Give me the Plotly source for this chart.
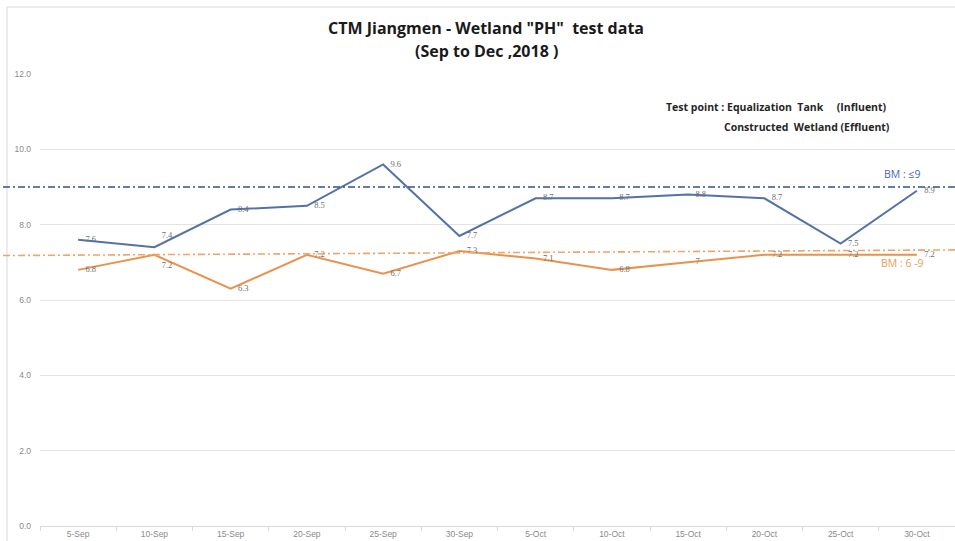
import plotly.graph_objects as go

# Sampling dates and pH readings
dates = ["5-Sep", "10-Sep", "15-Sep", "20-Sep", "25-Sep", "30-Sep",
         "5-Oct", "10-Oct", "15-Oct", "20-Oct", "25-Oct", "30-Oct"]
influent_ph = [7.6, 7.4, 8.4, 8.5, 9.6, 7.7, 8.7, 8.7, 8.8, 8.7, 7.5, 8.9]
effluent_ph = [6.8, 7.2, 6.3, 7.2, 6.7, 7.3, 7.1, 6.8, 7.0, 7.2, 7.2, 7.2]
y_ticks = [0, 2, 4, 6, 8, 10, 12]

# Benchmark guide lines (start / end level)
bm_upper = (9.0, 9.0)
bm_effluent = (7.18, 7.33)

W, H = 955, 541
L, R, T, B = 40, 0, 74, 15
PW, PH = W - L - R, H - T - B


def px(x):
    return (x - L) / PW


def py(y):
    return (H - B - y) / PH


BLUE = "#5272a8"
ORANGE = "#e8924c"
LABEL_GREY = "#6e6e6e"
TEXT_FONT = "Open Sans"

# label placement: the two 10-Sep labels are pushed apart
influent_pos = ["middle right"] * len(dates)
influent_pos[1] = "top right"
effluent_pos = ["middle right"] * len(dates)
effluent_pos[1] = "bottom right"

fig = go.Figure()

for values, colour, pos in ((influent_ph, BLUE, influent_pos),
                            (effluent_ph, ORANGE, effluent_pos)):
    fig.add_trace(go.Scatter(
        x=dates, y=values, mode="lines+markers+text",
        line=dict(color=colour, width=2),
        marker=dict(size=10, color="rgba(0,0,0,0)"),
        text=[f"{v:g}" for v in values], textposition=pos,
        textfont=dict(size=8.5, color=LABEL_GREY, family="Liberation Serif"),
        showlegend=False, cliponaxis=False, hoverinfo="x+y",
    ))

shapes = [
    # chart frame
    dict(type="rect", xref="paper", yref="paper",
         x0=px(7), x1=px(W + 20), y0=py(H + 20), y1=py(7),
         line=dict(color="#d9d9d9", width=1), fillcolor="rgba(0,0,0,0)",
         layer="below"),
    # benchmark lines
    dict(type="line", xref="paper", yref="y", x0=px(3), x1=px(W),
         y0=bm_upper[0], y1=bm_upper[1],
         line=dict(color="#34508a", width=1.6, dash="7px,3px,2px,3px")),
    dict(type="line", xref="paper", yref="y", x0=px(3), x1=px(W),
         y0=bm_effluent[0], y1=bm_effluent[1],
         line=dict(color="#f0a468", width=1.6, dash="7px,3px,2px,3px")),
]

NB = "\u00a0"
annotations = [
    dict(text='<b>CTM Jiangmen - Wetland "PH"' + NB * 2 + 'test data</b>',
         x=px(486), y=py(28), xref="paper", yref="paper",
         showarrow=False, xanchor="center", yanchor="middle",
         font=dict(family=TEXT_FONT, size=16, color="#1a1a1a")),
    dict(text="<b>(Sep to Dec ,2018 )</b>",
         x=px(486), y=py(51), xref="paper", yref="paper",
         showarrow=False, xanchor="center", yanchor="middle",
         font=dict(family=TEXT_FONT, size=16, color="#1a1a1a")),
    dict(text="<b>Test point : Equalization" + NB * 2 + "Tank" + NB * 5 + "(Influent)</b>",
         x=px(664), y=py(107), xref="paper", yref="paper",
         showarrow=False, xanchor="left", yanchor="middle",
         font=dict(family=TEXT_FONT, size=10.5, color="#262626")),
    dict(text="<b>Constructed" + NB * 2 + "Wetland (Effluent)</b>",
         x=px(722), y=py(127), xref="paper", yref="paper",
         showarrow=False, xanchor="left", yanchor="middle",
         font=dict(family=TEXT_FONT, size=10.5, color="#262626")),
    dict(text="BM : ≤9",
         x=px(882), y=py(174), xref="paper", yref="paper",
         showarrow=False, xanchor="left", yanchor="middle",
         font=dict(family=TEXT_FONT, size=10.5, color="#4a6aa8")),
    dict(text="BM : 6 -9",
         x=px(879), y=py(263), xref="paper", yref="paper",
         showarrow=False, xanchor="left", yanchor="middle",
         font=dict(family=TEXT_FONT, size=10.5, color="#ee9a58")),
]

fig.update_layout(
    width=W, height=H,
    margin=dict(l=L, r=R, t=T, b=B, pad=0),
    paper_bgcolor="white", plot_bgcolor="white",
    shapes=shapes, annotations=annotations,
    font=dict(family="Liberation Sans"),
)

fig.update_xaxes(
    type="category", categoryorder="array", categoryarray=dates,
    range=[-0.5, len(dates) - 0.5],
    showgrid=False, showline=True, linecolor="#d9d9d9", linewidth=1,
    ticks="outside", tickson="boundaries", ticklen=4, tickcolor="#d9d9d9",
    tickfont=dict(size=8.5, color="#8a8a8a"), automargin=False,
    zeroline=False,
)
fig.update_yaxes(
    range=[0, 12], tickvals=y_ticks,
    ticktext=[f"{v:.1f}" for v in y_ticks],
    showgrid=True, gridcolor="#e3e3e3", gridwidth=1,
    zeroline=False, showline=False,
    tickfont=dict(size=8.5, color="#8a8a8a"), ticklabelstandoff=8,
    automargin=False,
)

fig.write_html("out.html")
